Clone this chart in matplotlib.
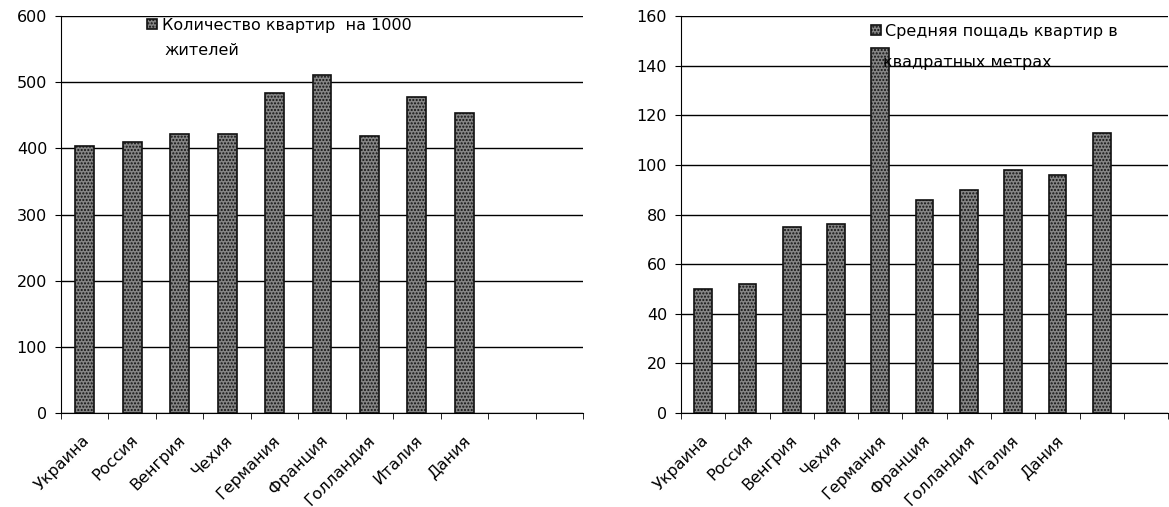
import matplotlib.pyplot as plt
import numpy as np

# Данные
countries = ["Украина", "Россия", "Венгрия", "Чехия", "Германия",
             "Франция", "Голландия", "Италия", "Дания"]
flats_per_1000 = [404, 409, 421, 422, 483, 511, 419, 477, 453]
avg_area = [50, 52, 75, 76, 147, 86, 90, 98, 96, 113]

legend_left = ["Количество квартир  на 1000", "жителей"]
legend_right = ["Средняя пощадь квартир в", "квадратных метрах"]

n_slots = 11

plt.rcParams['font.family'] = ['DejaVu Sans']


def draw_panel(ax, values, labels, ymax, ystep, legend_lines, legend_pos, line2_pos):
    x = np.arange(len(values)) + 0.5
    ax.bar(x, values, width=0.4, color='#858585', edgecolor='#111111',
           hatch='.....', linewidth=1.2, label=legend_lines[0], zorder=3)
    ax.set_xlim(0, n_slots)
    ax.set_ylim(0, ymax)
    ax.set_yticks(np.arange(0, ymax + 1, ystep))
    ax.grid(axis='y', color='black', linewidth=1.0, zorder=0)
    ax.set_axisbelow(True)

    # подписи по центрам столбцов, засечки по границам категорий
    ax.set_xticks(np.arange(len(labels)) + 0.45)
    ax.set_xticklabels(labels, rotation=45, ha='right', rotation_mode='anchor',
                       fontsize=11.5)
    ax.set_xticks(np.arange(0, n_slots + 1), minor=True)
    ax.tick_params(axis='x', which='major', length=0, pad=14)
    ax.tick_params(axis='x', which='minor', length=4, color='black')
    ax.tick_params(axis='y', length=4, labelsize=11.5, pad=6)

    for s in ['top', 'right']:
        ax.spines[s].set_visible(False)
    ax.spines['left'].set_color('black')
    ax.spines['bottom'].set_color('black')

    # легенда в две строки: вторая строка переносится под первую
    ax.legend(loc='upper left', bbox_to_anchor=legend_pos, frameon=False,
              fontsize=11.5, handlelength=0.6, handleheight=0.6,
              handletextpad=0.3, borderaxespad=0, borderpad=0)
    ax.text(line2_pos[0], line2_pos[1], legend_lines[1], transform=ax.transAxes,
            fontsize=11.5, ha='left', va='center')


fig = plt.figure(figsize=(11.69, 5.07), dpi=100)
ax1 = fig.add_axes([0.0522, 0.1854, 0.4465, 0.783])
ax2 = fig.add_axes([0.5826, 0.1854, 0.4166, 0.783])

draw_panel(ax1, flats_per_1000, countries, 600, 100, legend_left,
           (0.165, 0.995), (0.199, 0.914))
draw_panel(ax2, avg_area, countries, 160, 20, legend_right,
           (0.39, 0.98), (0.415, 0.884))

fig.savefig('out.png', dpi=100, facecolor='white')
